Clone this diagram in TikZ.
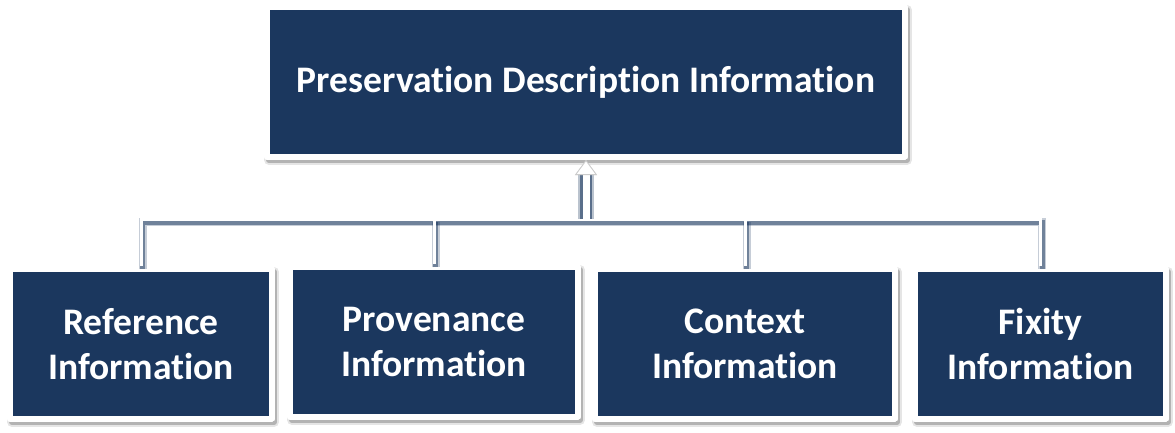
\documentclass[tikz,border=0pt]{standalone}
\usepackage{fontspec}
\setmainfont{Carlito}[Ligatures=CommonOff]
\usetikzlibrary{shadows,arrows.meta}
\definecolor{navy}{RGB}{27,55,94}
\tikzset{
  infobox/.style={
    draw=white, line width=6pt, fill=navy, line join=round,
    drop shadow={shadow xshift=2pt, shadow yshift=-3pt, fill=black, draw=black, line width=10pt, opacity=0.10},
    drop shadow={shadow xshift=2pt, shadow yshift=-3pt, fill=black, draw=black, line width=6pt, opacity=0.22},
    text=white, align=center, inner sep=0pt,
    font=\bfseries\fontsize{37.5}{45}\selectfont,
    minimum height=150pt},
  conn/.style={
    draw=white, line width=3pt,
    preaction={draw=navy, line width=8pt, opacity=0.25, transform canvas={shift={(1.5pt,-3pt)}}},
    preaction={draw=navy, line width=5pt, opacity=0.5, transform canvas={shift={(1.5pt,-3pt)}}}},
  uparrow/.style={
    draw=white, line width=7pt,
    preaction={draw=navy, line width=16pt, opacity=0.3},
    preaction={draw=navy, line width=12pt, opacity=0.6},
    -{Triangle[width=22pt,length=15pt,line width=0.8pt,fill=white,color=black!20]}}
}
\begin{document}
\begin{tikzpicture}[x=1pt,y=-1pt]
\useasboundingbox (0,0) rectangle (1175,432);

\node[infobox, minimum width=638pt] (pdi) at (586,82) {Preservation Description Information};

\node[infobox, minimum width=262pt] (ref) at (141,344) {Reference\\Information};
\node[infobox, minimum width=288pt] (prov) at (434,342) {Provenance\\Information};
\node[infobox, minimum width=300pt] (ctx) at (745,344) {Context\\Information};
\node[infobox, minimum width=251pt] (fix) at (1040.5,344) {Fixity\\Information};

% connector bus
\coordinate (bus) at (586,219);
\draw[conn] (ref.north) |- (bus) -| (fix.north);
\draw[conn] (prov.north) -- (prov.north |- bus);
\draw[conn] (ctx.north) -- (ctx.north |- bus);

% arrow up to the parent box
\draw[uparrow] (bus) -- (pdi.south);
\end{tikzpicture}
\end{document}
